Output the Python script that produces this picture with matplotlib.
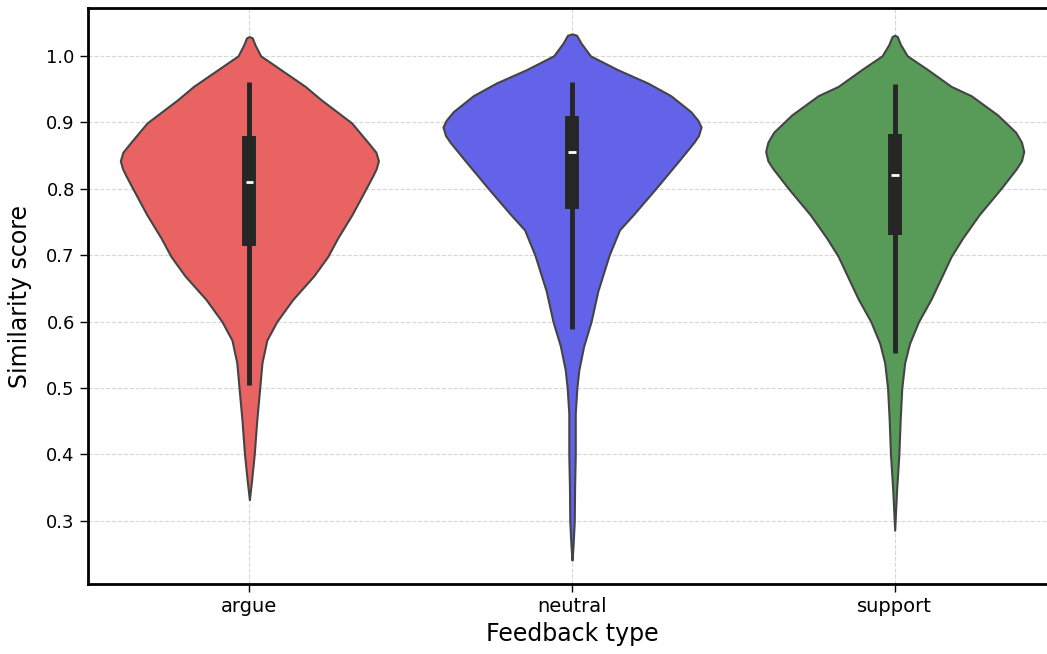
import matplotlib.pyplot as plt
import numpy as np

# Feedback categories and their violin outlines (score level, half-width).
CATEGORIES = ["argue", "neutral", "support"]
COLORS = ["#E96363", "#6363E9", "#589B58"]

ARGUE_Y = [1.029, 1.027, 1.017, 1.000, 0.979, 0.954, 0.934, 0.899, 0.870, 0.855, 0.842,
           0.830, 0.819, 0.798, 0.761, 0.726, 0.698, 0.669, 0.633, 0.600, 0.572, 0.538,
           0.500, 0.452, 0.400, 0.362, 0.332]
ARGUE_W = [0.000, 0.009, 0.017, 0.035, 0.098, 0.173, 0.222, 0.317, 0.367, 0.392, 0.400,
           0.393, 0.382, 0.359, 0.318, 0.274, 0.243, 0.200, 0.134, 0.085, 0.054, 0.039,
           0.032, 0.023, 0.015, 0.007, 0.000]

NEUTRAL_Y = [1.033, 1.031, 1.019, 1.000, 0.979, 0.959, 0.940, 0.916, 0.903, 0.893, 0.880,
             0.870, 0.842, 0.800, 0.761, 0.738, 0.700, 0.663, 0.646, 0.600, 0.563, 0.527,
             0.500, 0.462, 0.400, 0.351, 0.300, 0.261, 0.241]
NEUTRAL_W = [0.000, 0.014, 0.028, 0.057, 0.142, 0.235, 0.306, 0.368, 0.390, 0.400, 0.392,
             0.378, 0.331, 0.259, 0.190, 0.147, 0.115, 0.091, 0.080, 0.059, 0.036, 0.021,
             0.015, 0.010, 0.010, 0.008, 0.007, 0.003, 0.000]

SUPPORT_Y = [1.031, 1.029, 1.017, 1.000, 0.979, 0.954, 0.940, 0.911, 0.885, 0.870, 0.856,
             0.842, 0.830, 0.800, 0.761, 0.726, 0.698, 0.669, 0.634, 0.600, 0.567, 0.538,
             0.500, 0.452, 0.400, 0.347, 0.286]
SUPPORT_W = [0.000, 0.008, 0.018, 0.039, 0.103, 0.175, 0.237, 0.319, 0.375, 0.393, 0.400,
             0.393, 0.377, 0.329, 0.262, 0.211, 0.175, 0.147, 0.113, 0.074, 0.046, 0.031,
             0.022, 0.017, 0.013, 0.006, 0.000]

# Inner box stats: whisker low, q1, median, q3, whisker high
BOX_LOW = [0.505, 0.589, 0.552]
BOX_Q1 = [0.714, 0.770, 0.730]
BOX_MED = [0.810, 0.855, 0.820]
BOX_Q3 = [0.879, 0.910, 0.883]
BOX_HIGH = [0.960, 0.960, 0.958]

OUTLINES = [(ARGUE_Y, ARGUE_W), (NEUTRAL_Y, NEUTRAL_W), (SUPPORT_Y, SUPPORT_W)]


def main() -> None:
    fig = plt.figure(figsize=(10.47, 6.54), dpi=100)
    ax = fig.add_axes([0.0841, 0.1070, 0.9245, 0.8808])

    for i, (ys, ws) in enumerate(OUTLINES):
        ys = np.array(ys)
        ws = np.array(ws)
        ax.fill_betweenx(ys, i - ws, i + ws, facecolor=COLORS[i],
                         edgecolor="#444444", linewidth=1.5, zorder=2)
        ax.plot([i, i], [BOX_LOW[i], BOX_HIGH[i]], color="#262626",
                linewidth=3.5, solid_capstyle="butt", zorder=3)
        ax.plot([i, i], [BOX_Q1[i], BOX_Q3[i]], color="#262626",
                linewidth=10, solid_capstyle="butt", zorder=3)
        ax.plot([i - 0.012, i + 0.012], [BOX_MED[i], BOX_MED[i]], color="white",
                linewidth=2, solid_capstyle="butt", zorder=4)

    yticks = np.arange(0.3, 1.01, 0.1)
    ax.set_xticks(range(len(CATEGORIES)))
    ax.set_xticklabels(CATEGORIES, fontsize=14)
    ax.set_yticks(yticks)
    ax.set_yticklabels([f"{v:.1f}" for v in yticks], fontsize=13)
    ax.set_xlim(-0.5, 2.5)
    ax.set_ylim(0.205, 1.072)
    ax.tick_params(length=6, width=1)
    ax.set_xlabel("Feedback type", fontsize=17, labelpad=4)
    ax.set_ylabel("Similarity score", fontsize=17, labelpad=10)
    ax.grid(True, linestyle="--", color="#cccccc", linewidth=0.8, alpha=0.8, zorder=0)
    ax.set_axisbelow(True)
    for spine in ax.spines.values():
        spine.set_linewidth(2)
        spine.set_color("black")

    plt.savefig("out.png", dpi=100)
    plt.close(fig)


if __name__ == "__main__":
    main()
